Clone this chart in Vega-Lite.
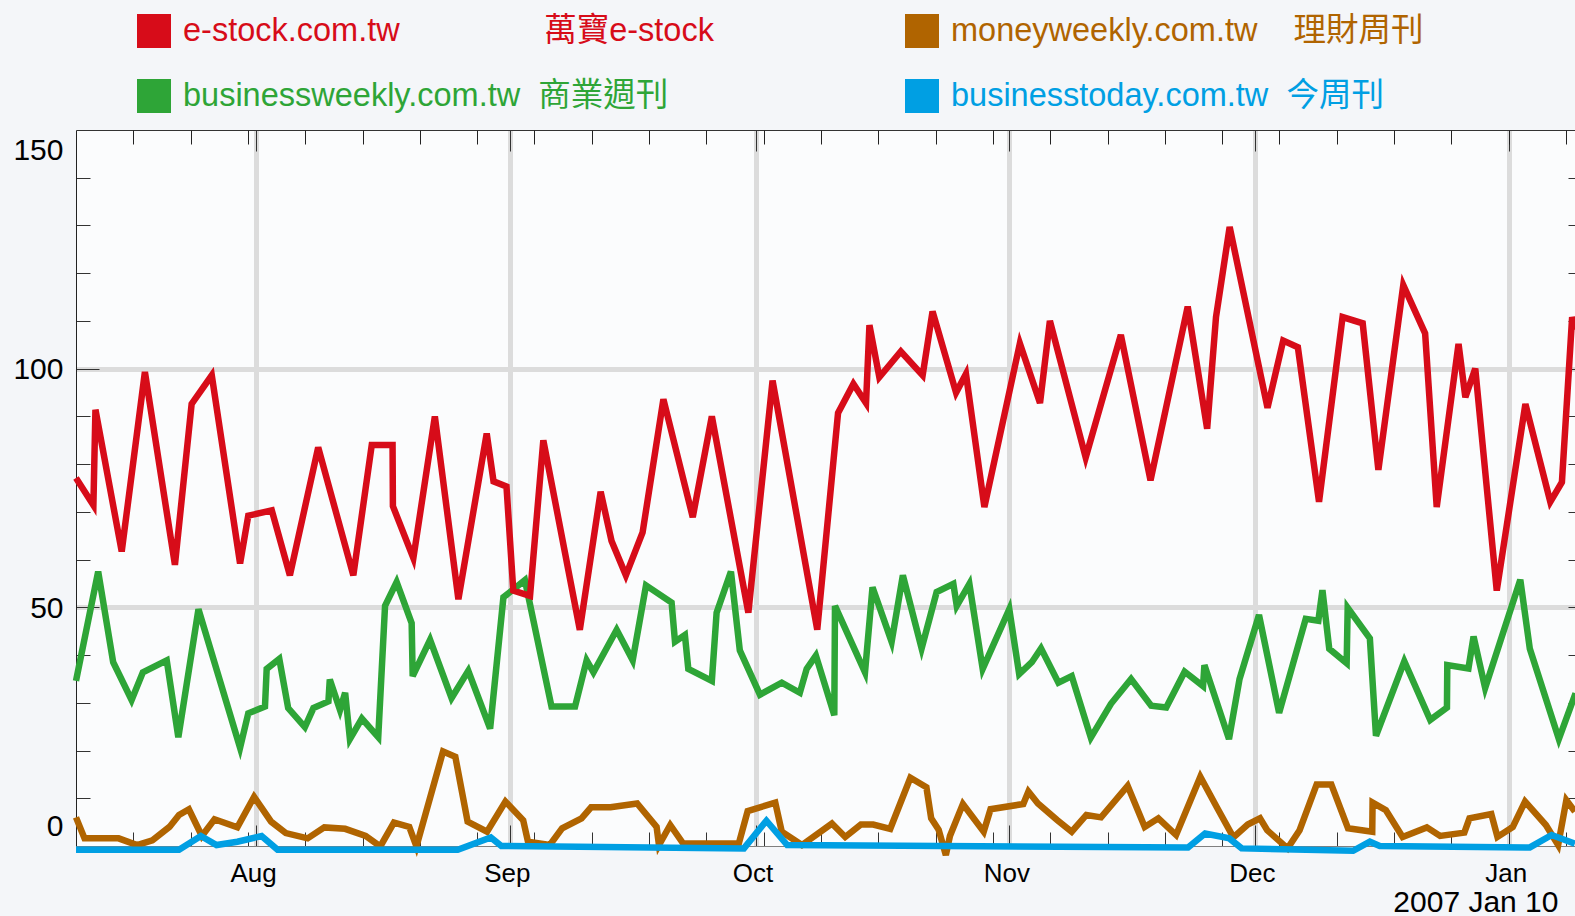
{
  "$schema": "https://vega.github.io/schema/vega-lite/v6.json",
  "width": 1499,
  "height": 716,
  "autosize": {"type": "none"},
  "padding": {"left": 76, "top": 130, "right": 0, "bottom": 70},
  "background": "#f4f6f9",
  "config": {"view": {"stroke": null, "fill": "#fbfcfd"}},
  "data": {"values": [
    {"site":"e-stock.com.tw","date":"2006-07-10T00:00","reach":77.1},
    {"site":"e-stock.com.tw","date":"2006-07-12T03:00","reach":71.4},
    {"site":"e-stock.com.tw","date":"2006-07-12T09:00","reach":91.4},
    {"site":"e-stock.com.tw","date":"2006-07-15T14:00","reach":61.7},
    {"site":"e-stock.com.tw","date":"2006-07-18T10:00","reach":99.3},
    {"site":"e-stock.com.tw","date":"2006-07-22T02:00","reach":58.9},
    {"site":"e-stock.com.tw","date":"2006-07-24T03:00","reach":92.6},
    {"site":"e-stock.com.tw","date":"2006-07-26T14:00","reach":98.6},
    {"site":"e-stock.com.tw","date":"2006-07-30T01:00","reach":59.2},
    {"site":"e-stock.com.tw","date":"2006-07-31T01:00","reach":69.2},
    {"site":"e-stock.com.tw","date":"2006-08-02T22:00","reach":70.3},
    {"site":"e-stock.com.tw","date":"2006-08-05T03:00","reach":56.7},
    {"site":"e-stock.com.tw","date":"2006-08-08T14:00","reach":83.5},
    {"site":"e-stock.com.tw","date":"2006-08-12T21:00","reach":56.7},
    {"site":"e-stock.com.tw","date":"2006-08-15T03:00","reach":84.0},
    {"site":"e-stock.com.tw","date":"2006-08-17T16:00","reach":84.0},
    {"site":"e-stock.com.tw","date":"2006-08-17T17:00","reach":71.2},
    {"site":"e-stock.com.tw","date":"2006-08-20T05:00","reach":60.3},
    {"site":"e-stock.com.tw","date":"2006-08-22T20:00","reach":90.0},
    {"site":"e-stock.com.tw","date":"2006-08-25T17:00","reach":51.7},
    {"site":"e-stock.com.tw","date":"2006-08-29T04:00","reach":86.4},
    {"site":"e-stock.com.tw","date":"2006-08-30T00:00","reach":76.4},
    {"site":"e-stock.com.tw","date":"2006-08-31T14:00","reach":75.3},
    {"site":"e-stock.com.tw","date":"2006-09-01T10:00","reach":53.5},
    {"site":"e-stock.com.tw","date":"2006-09-03T11:00","reach":52.4},
    {"site":"e-stock.com.tw","date":"2006-09-05T02:00","reach":85.0},
    {"site":"e-stock.com.tw","date":"2006-09-09T13:00","reach":45.3},
    {"site":"e-stock.com.tw","date":"2006-09-12T02:00","reach":74.2},
    {"site":"e-stock.com.tw","date":"2006-09-13T10:00","reach":63.9},
    {"site":"e-stock.com.tw","date":"2006-09-15T04:00","reach":56.7},
    {"site":"e-stock.com.tw","date":"2006-09-17T05:00","reach":65.7},
    {"site":"e-stock.com.tw","date":"2006-09-19T18:00","reach":93.6},
    {"site":"e-stock.com.tw","date":"2006-09-23T08:00","reach":68.9},
    {"site":"e-stock.com.tw","date":"2006-09-25T16:00","reach":90.0},
    {"site":"e-stock.com.tw","date":"2006-09-30T03:00","reach":48.9},
    {"site":"e-stock.com.tw","date":"2006-10-03T02:00","reach":97.5},
    {"site":"e-stock.com.tw","date":"2006-10-08T13:00","reach":45.3},
    {"site":"e-stock.com.tw","date":"2006-10-11T02:00","reach":90.7},
    {"site":"e-stock.com.tw","date":"2006-10-12T23:00","reach":96.8},
    {"site":"e-stock.com.tw","date":"2006-10-14T12:00","reach":92.8},
    {"site":"e-stock.com.tw","date":"2006-10-14T22:00","reach":109.1},
    {"site":"e-stock.com.tw","date":"2006-10-16T03:00","reach":98.2},
    {"site":"e-stock.com.tw","date":"2006-10-18T18:00","reach":103.6},
    {"site":"e-stock.com.tw","date":"2006-10-21T10:00","reach":98.6},
    {"site":"e-stock.com.tw","date":"2006-10-22T15:00","reach":112.0},
    {"site":"e-stock.com.tw","date":"2006-10-25T12:00","reach":95.0},
    {"site":"e-stock.com.tw","date":"2006-10-26T17:00","reach":98.9},
    {"site":"e-stock.com.tw","date":"2006-10-28T23:00","reach":71.0},
    {"site":"e-stock.com.tw","date":"2006-11-02T07:00","reach":105.3},
    {"site":"e-stock.com.tw","date":"2006-11-04T18:00","reach":92.8},
    {"site":"e-stock.com.tw","date":"2006-11-05T23:00","reach":110.0},
    {"site":"e-stock.com.tw","date":"2006-11-10T08:00","reach":81.4},
    {"site":"e-stock.com.tw","date":"2006-11-14T15:00","reach":107.1},
    {"site":"e-stock.com.tw","date":"2006-11-18T06:00","reach":76.6},
    {"site":"e-stock.com.tw","date":"2006-11-22T19:00","reach":113.0},
    {"site":"e-stock.com.tw","date":"2006-11-25T04:00","reach":87.4},
    {"site":"e-stock.com.tw","date":"2006-11-26T06:00","reach":110.8},
    {"site":"e-stock.com.tw","date":"2006-11-27T22:00","reach":129.7},
    {"site":"e-stock.com.tw","date":"2006-12-02T13:00","reach":91.8},
    {"site":"e-stock.com.tw","date":"2006-12-04T11:00","reach":105.9},
    {"site":"e-stock.com.tw","date":"2006-12-06T06:00","reach":104.5},
    {"site":"e-stock.com.tw","date":"2006-12-08T20:00","reach":72.1},
    {"site":"e-stock.com.tw","date":"2006-12-11T17:00","reach":110.8},
    {"site":"e-stock.com.tw","date":"2006-12-14T04:00","reach":109.5},
    {"site":"e-stock.com.tw","date":"2006-12-16T02:00","reach":78.8},
    {"site":"e-stock.com.tw","date":"2006-12-19T03:00","reach":117.5},
    {"site":"e-stock.com.tw","date":"2006-12-21T19:00","reach":107.4},
    {"site":"e-stock.com.tw","date":"2006-12-23T05:00","reach":71.0},
    {"site":"e-stock.com.tw","date":"2006-12-25T21:00","reach":105.2},
    {"site":"e-stock.com.tw","date":"2006-12-26T17:00","reach":94.0},
    {"site":"e-stock.com.tw","date":"2006-12-27T22:00","reach":100.0},
    {"site":"e-stock.com.tw","date":"2006-12-30T13:00","reach":53.5},
    {"site":"e-stock.com.tw","date":"2007-01-03T01:00","reach":92.6},
    {"site":"e-stock.com.tw","date":"2007-01-06T02:00","reach":72.1},
    {"site":"e-stock.com.tw","date":"2007-01-07T12:00","reach":76.2},
    {"site":"e-stock.com.tw","date":"2007-01-08T18:00","reach":110.8},
    {"site":"e-stock.com.tw","date":"2007-01-09T04:00","reach":108.2},

    {"site":"businessweekly.com.tw","date":"2006-07-10T00:00","reach":34.6},
    {"site":"businessweekly.com.tw","date":"2006-07-12T17:00","reach":57.5},
    {"site":"businessweekly.com.tw","date":"2006-07-14T13:00","reach":38.5},
    {"site":"businessweekly.com.tw","date":"2006-07-16T19:00","reach":30.6},
    {"site":"businessweekly.com.tw","date":"2006-07-18T04:00","reach":36.4},
    {"site":"businessweekly.com.tw","date":"2006-07-21T02:00","reach":38.9},
    {"site":"businessweekly.com.tw","date":"2006-07-22T12:00","reach":22.8},
    {"site":"businessweekly.com.tw","date":"2006-07-24T23:00","reach":49.6},
    {"site":"businessweekly.com.tw","date":"2006-07-30T01:00","reach":20.6},
    {"site":"businessweekly.com.tw","date":"2006-07-31T01:00","reach":27.8},
    {"site":"businessweekly.com.tw","date":"2006-08-02T02:00","reach":29.2},
    {"site":"businessweekly.com.tw","date":"2006-08-02T07:00","reach":37.1},
    {"site":"businessweekly.com.tw","date":"2006-08-03T20:00","reach":39.2},
    {"site":"businessweekly.com.tw","date":"2006-08-04T22:00","reach":28.9},
    {"site":"businessweekly.com.tw","date":"2006-08-06T23:00","reach":24.9},
    {"site":"businessweekly.com.tw","date":"2006-08-08T00:00","reach":28.9},
    {"site":"businessweekly.com.tw","date":"2006-08-09T20:00","reach":30.3},
    {"site":"businessweekly.com.tw","date":"2006-08-10T00:00","reach":34.9},
    {"site":"businessweekly.com.tw","date":"2006-08-11T06:00","reach":28.5},
    {"site":"businessweekly.com.tw","date":"2006-08-11T21:00","reach":32.1},
    {"site":"businessweekly.com.tw","date":"2006-08-12T11:00","reach":22.4},
    {"site":"businessweekly.com.tw","date":"2006-08-13T22:00","reach":26.7},
    {"site":"businessweekly.com.tw","date":"2006-08-15T22:00","reach":22.8},
    {"site":"businessweekly.com.tw","date":"2006-08-16T18:00","reach":50.3},
    {"site":"businessweekly.com.tw","date":"2006-08-18T04:00","reach":55.3},
    {"site":"businessweekly.com.tw","date":"2006-08-20T00:00","reach":46.7},
    {"site":"businessweekly.com.tw","date":"2006-08-20T03:00","reach":35.6},
    {"site":"businessweekly.com.tw","date":"2006-08-22T06:00","reach":43.2},
    {"site":"businessweekly.com.tw","date":"2006-08-24T21:00","reach":31.0},
    {"site":"businessweekly.com.tw","date":"2006-08-26T22:00","reach":36.7},
    {"site":"businessweekly.com.tw","date":"2006-08-29T14:00","reach":24.6},
    {"site":"businessweekly.com.tw","date":"2006-08-31T05:00","reach":52.1},
    {"site":"businessweekly.com.tw","date":"2006-09-02T20:00","reach":55.7},
    {"site":"businessweekly.com.tw","date":"2006-09-06T02:00","reach":29.2},
    {"site":"businessweekly.com.tw","date":"2006-09-08T23:00","reach":29.2},
    {"site":"businessweekly.com.tw","date":"2006-09-10T09:00","reach":38.9},
    {"site":"businessweekly.com.tw","date":"2006-09-11T05:00","reach":36.4},
    {"site":"businessweekly.com.tw","date":"2006-09-14T01:00","reach":45.3},
    {"site":"businessweekly.com.tw","date":"2006-09-16T00:00","reach":38.9},
    {"site":"businessweekly.com.tw","date":"2006-09-17T15:00","reach":54.6},
    {"site":"businessweekly.com.tw","date":"2006-09-20T18:00","reach":51.0},
    {"site":"businessweekly.com.tw","date":"2006-09-21T04:00","reach":42.8},
    {"site":"businessweekly.com.tw","date":"2006-09-22T09:00","reach":44.2},
    {"site":"businessweekly.com.tw","date":"2006-09-22T19:00","reach":37.1},
    {"site":"businessweekly.com.tw","date":"2006-09-25T16:00","reach":34.6},
    {"site":"businessweekly.com.tw","date":"2006-09-26T06:00","reach":48.9},
    {"site":"businessweekly.com.tw","date":"2006-09-28T00:00","reach":57.5},
    {"site":"businessweekly.com.tw","date":"2006-09-29T02:00","reach":41.0},
    {"site":"businessweekly.com.tw","date":"2006-10-01T13:00","reach":31.7},
    {"site":"businessweekly.com.tw","date":"2006-10-04T05:00","reach":34.2},
    {"site":"businessweekly.com.tw","date":"2006-10-06T10:00","reach":32.1},
    {"site":"businessweekly.com.tw","date":"2006-10-07T06:00","reach":37.1},
    {"site":"businessweekly.com.tw","date":"2006-10-08T09:00","reach":39.9},
    {"site":"businessweekly.com.tw","date":"2006-10-10T15:00","reach":27.4},
    {"site":"businessweekly.com.tw","date":"2006-10-10T17:00","reach":50.3},
    {"site":"businessweekly.com.tw","date":"2006-10-14T09:00","reach":36.4},
    {"site":"businessweekly.com.tw","date":"2006-10-15T07:00","reach":54.2},
    {"site":"businessweekly.com.tw","date":"2006-10-17T15:00","reach":42.8},
    {"site":"businessweekly.com.tw","date":"2006-10-19T00:00","reach":56.7},
    {"site":"businessweekly.com.tw","date":"2006-10-21T07:00","reach":41.4},
    {"site":"businessweekly.com.tw","date":"2006-10-23T03:00","reach":53.2},
    {"site":"businessweekly.com.tw","date":"2006-10-25T04:00","reach":54.9},
    {"site":"businessweekly.com.tw","date":"2006-10-25T14:00","reach":50.3},
    {"site":"businessweekly.com.tw","date":"2006-10-27T03:00","reach":54.9},
    {"site":"businessweekly.com.tw","date":"2006-10-28T18:00","reach":37.1},
    {"site":"businessweekly.com.tw","date":"2006-11-01T00:00","reach":49.6},
    {"site":"businessweekly.com.tw","date":"2006-11-02T05:00","reach":36.0},
    {"site":"businessweekly.com.tw","date":"2006-11-03T18:00","reach":38.5},
    {"site":"businessweekly.com.tw","date":"2006-11-04T21:00","reach":41.4},
    {"site":"businessweekly.com.tw","date":"2006-11-07T00:00","reach":34.2},
    {"site":"businessweekly.com.tw","date":"2006-11-08T15:00","reach":35.6},
    {"site":"businessweekly.com.tw","date":"2006-11-10T23:00","reach":22.7},
    {"site":"businessweekly.com.tw","date":"2006-11-13T10:00","reach":29.8},
    {"site":"businessweekly.com.tw","date":"2006-11-15T21:00","reach":35.0},
    {"site":"businessweekly.com.tw","date":"2006-11-18T08:00","reach":29.4},
    {"site":"businessweekly.com.tw","date":"2006-11-20T04:00","reach":29.0},
    {"site":"businessweekly.com.tw","date":"2006-11-22T10:00","reach":36.5},
    {"site":"businessweekly.com.tw","date":"2006-11-24T16:00","reach":33.5},
    {"site":"businessweekly.com.tw","date":"2006-11-24T20:00","reach":37.9},
    {"site":"businessweekly.com.tw","date":"2006-11-27T20:00","reach":22.4},
    {"site":"businessweekly.com.tw","date":"2006-11-29T03:00","reach":35.0},
    {"site":"businessweekly.com.tw","date":"2006-12-01T12:00","reach":48.4},
    {"site":"businessweekly.com.tw","date":"2006-12-03T23:00","reach":27.9},
    {"site":"businessweekly.com.tw","date":"2006-12-07T05:00","reach":47.6},
    {"site":"businessweekly.com.tw","date":"2006-12-08T18:00","reach":47.2},
    {"site":"businessweekly.com.tw","date":"2006-12-09T06:00","reach":53.6},
    {"site":"businessweekly.com.tw","date":"2006-12-10T02:00","reach":41.3},
    {"site":"businessweekly.com.tw","date":"2006-12-12T05:00","reach":38.3},
    {"site":"businessweekly.com.tw","date":"2006-12-12T08:00","reach":49.9},
    {"site":"businessweekly.com.tw","date":"2006-12-15T01:00","reach":43.5},
    {"site":"businessweekly.com.tw","date":"2006-12-15T19:00","reach":23.1},
    {"site":"businessweekly.com.tw","date":"2006-12-19T06:00","reach":38.7},
    {"site":"businessweekly.com.tw","date":"2006-12-22T10:00","reach":26.4},
    {"site":"businessweekly.com.tw","date":"2006-12-24T11:00","reach":29.0},
    {"site":"businessweekly.com.tw","date":"2006-12-24T12:00","reach":37.9},
    {"site":"businessweekly.com.tw","date":"2006-12-27T02:00","reach":37.2},
    {"site":"businessweekly.com.tw","date":"2006-12-27T17:00","reach":43.9},
    {"site":"businessweekly.com.tw","date":"2006-12-29T03:00","reach":33.1},
    {"site":"businessweekly.com.tw","date":"2007-01-02T10:00","reach":55.8},
    {"site":"businessweekly.com.tw","date":"2007-01-03T14:00","reach":41.3},
    {"site":"businessweekly.com.tw","date":"2007-01-07T03:00","reach":22.4},
    {"site":"businessweekly.com.tw","date":"2007-01-09T04:00","reach":32.0},

    {"site":"moneyweekly.com.tw","date":"2006-07-10T00:00","reach":6.0},
    {"site":"moneyweekly.com.tw","date":"2006-07-11T01:00","reach":1.6},
    {"site":"moneyweekly.com.tw","date":"2006-07-15T05:00","reach":1.6},
    {"site":"moneyweekly.com.tw","date":"2006-07-17T11:00","reach":0.2},
    {"site":"moneyweekly.com.tw","date":"2006-07-19T08:00","reach":1.2},
    {"site":"moneyweekly.com.tw","date":"2006-07-21T10:00","reach":4.0},
    {"site":"moneyweekly.com.tw","date":"2006-07-22T14:00","reach":6.5},
    {"site":"moneyweekly.com.tw","date":"2006-07-23T19:00","reach":7.7},
    {"site":"moneyweekly.com.tw","date":"2006-07-25T09:00","reach":2.1},
    {"site":"moneyweekly.com.tw","date":"2006-07-26T22:00","reach":5.6},
    {"site":"moneyweekly.com.tw","date":"2006-07-29T17:00","reach":3.9},
    {"site":"moneyweekly.com.tw","date":"2006-07-31T18:00","reach":10.3},
    {"site":"moneyweekly.com.tw","date":"2006-08-02T20:00","reach":5.1},
    {"site":"moneyweekly.com.tw","date":"2006-08-04T15:00","reach":2.7},
    {"site":"moneyweekly.com.tw","date":"2006-08-07T07:00","reach":1.6},
    {"site":"moneyweekly.com.tw","date":"2006-08-09T08:00","reach":3.9},
    {"site":"moneyweekly.com.tw","date":"2006-08-11T21:00","reach":3.6},
    {"site":"moneyweekly.com.tw","date":"2006-08-14T09:00","reach":2.1},
    {"site":"moneyweekly.com.tw","date":"2006-08-16T04:00","reach":-0.1},
    {"site":"moneyweekly.com.tw","date":"2006-08-17T20:00","reach":4.9},
    {"site":"moneyweekly.com.tw","date":"2006-08-19T17:00","reach":4.0},
    {"site":"moneyweekly.com.tw","date":"2006-08-20T14:00","reach":-0.1},
    {"site":"moneyweekly.com.tw","date":"2006-08-23T20:00","reach":19.8},
    {"site":"moneyweekly.com.tw","date":"2006-08-25T08:00","reach":18.7},
    {"site":"moneyweekly.com.tw","date":"2006-08-26T20:00","reach":5.1},
    {"site":"moneyweekly.com.tw","date":"2006-08-29T05:00","reach":3.0},
    {"site":"moneyweekly.com.tw","date":"2006-08-31T11:00","reach":9.3},
    {"site":"moneyweekly.com.tw","date":"2006-09-02T15:00","reach":5.4},
    {"site":"moneyweekly.com.tw","date":"2006-09-03T05:00","reach":0.9},
    {"site":"moneyweekly.com.tw","date":"2006-09-05T21:00","reach":0.2},
    {"site":"moneyweekly.com.tw","date":"2006-09-07T09:00","reach":3.7},
    {"site":"moneyweekly.com.tw","date":"2006-09-09T18:00","reach":5.8},
    {"site":"moneyweekly.com.tw","date":"2006-09-10T22:00","reach":8.1},
    {"site":"moneyweekly.com.tw","date":"2006-09-13T07:00","reach":8.1},
    {"site":"moneyweekly.com.tw","date":"2006-09-16T13:00","reach":8.9},
    {"site":"moneyweekly.com.tw","date":"2006-09-18T22:00","reach":4.0},
    {"site":"moneyweekly.com.tw","date":"2006-09-19T05:00","reach":0.2},
    {"site":"moneyweekly.com.tw","date":"2006-09-20T14:00","reach":4.4},
    {"site":"moneyweekly.com.tw","date":"2006-09-22T04:00","reach":0.5},
    {"site":"moneyweekly.com.tw","date":"2006-09-28T23:00","reach":0.5},
    {"site":"moneyweekly.com.tw","date":"2006-09-30T01:00","reach":7.3},
    {"site":"moneyweekly.com.tw","date":"2006-10-03T10:00","reach":9.1},
    {"site":"moneyweekly.com.tw","date":"2006-10-04T05:00","reach":3.0},
    {"site":"moneyweekly.com.tw","date":"2006-10-06T16:00","reach":0.2},
    {"site":"moneyweekly.com.tw","date":"2006-10-10T08:00","reach":4.7},
    {"site":"moneyweekly.com.tw","date":"2006-10-11T23:00","reach":1.9},
    {"site":"moneyweekly.com.tw","date":"2006-10-13T21:00","reach":4.5},
    {"site":"moneyweekly.com.tw","date":"2006-10-15T09:00","reach":4.5},
    {"site":"moneyweekly.com.tw","date":"2006-10-17T11:00","reach":3.6},
    {"site":"moneyweekly.com.tw","date":"2006-10-19T22:00","reach":14.3},
    {"site":"moneyweekly.com.tw","date":"2006-10-21T21:00","reach":12.3},
    {"site":"moneyweekly.com.tw","date":"2006-10-22T11:00","reach":5.8},
    {"site":"moneyweekly.com.tw","date":"2006-10-23T09:00","reach":3.4},
    {"site":"moneyweekly.com.tw","date":"2006-10-24T06:00","reach":-1.9},
    {"site":"moneyweekly.com.tw","date":"2006-10-24T18:00","reach":2.1},
    {"site":"moneyweekly.com.tw","date":"2006-10-26T08:00","reach":8.8},
    {"site":"moneyweekly.com.tw","date":"2006-10-28T21:00","reach":3.0},
    {"site":"moneyweekly.com.tw","date":"2006-10-29T17:00","reach":7.7},
    {"site":"moneyweekly.com.tw","date":"2006-11-02T17:00","reach":8.8},
    {"site":"moneyweekly.com.tw","date":"2006-11-03T08:00","reach":11.4},
    {"site":"moneyweekly.com.tw","date":"2006-11-04T12:00","reach":8.9},
    {"site":"moneyweekly.com.tw","date":"2006-11-06T21:00","reach":5.4},
    {"site":"moneyweekly.com.tw","date":"2006-11-08T15:00","reach":3.0},
    {"site":"moneyweekly.com.tw","date":"2006-11-10T10:00","reach":6.5},
    {"site":"moneyweekly.com.tw","date":"2006-11-12T05:00","reach":6.0},
    {"site":"moneyweekly.com.tw","date":"2006-11-15T11:00","reach":12.6},
    {"site":"moneyweekly.com.tw","date":"2006-11-17T13:00","reach":4.0},
    {"site":"moneyweekly.com.tw","date":"2006-11-19T05:00","reach":5.8},
    {"site":"moneyweekly.com.tw","date":"2006-11-21T09:00","reach":2.3},
    {"site":"moneyweekly.com.tw","date":"2006-11-24T08:00","reach":14.5},
    {"site":"moneyweekly.com.tw","date":"2006-11-26T10:00","reach":7.9},
    {"site":"moneyweekly.com.tw","date":"2006-11-28T09:00","reach":1.8},
    {"site":"moneyweekly.com.tw","date":"2006-11-30T03:00","reach":4.5},
    {"site":"moneyweekly.com.tw","date":"2006-12-01T15:00","reach":5.8},
    {"site":"moneyweekly.com.tw","date":"2006-12-02T12:00","reach":3.3},
    {"site":"moneyweekly.com.tw","date":"2006-12-05T00:00","reach":-0.5},
    {"site":"moneyweekly.com.tw","date":"2006-12-06T11:00","reach":3.3},
    {"site":"moneyweekly.com.tw","date":"2006-12-08T13:00","reach":12.9},
    {"site":"moneyweekly.com.tw","date":"2006-12-10T08:00","reach":12.9},
    {"site":"moneyweekly.com.tw","date":"2006-12-12T09:00","reach":3.7},
    {"site":"moneyweekly.com.tw","date":"2006-12-15T08:00","reach":3.0},
    {"site":"moneyweekly.com.tw","date":"2006-12-15T09:00","reach":9.1},
    {"site":"moneyweekly.com.tw","date":"2006-12-17T00:00","reach":7.5},
    {"site":"moneyweekly.com.tw","date":"2006-12-19T01:00","reach":1.9},
    {"site":"moneyweekly.com.tw","date":"2006-12-22T00:00","reach":3.9},
    {"site":"moneyweekly.com.tw","date":"2006-12-23T15:00","reach":2.1},
    {"site":"moneyweekly.com.tw","date":"2006-12-26T14:00","reach":2.8},
    {"site":"moneyweekly.com.tw","date":"2006-12-27T05:00","reach":5.8},
    {"site":"moneyweekly.com.tw","date":"2006-12-29T21:00","reach":6.7},
    {"site":"moneyweekly.com.tw","date":"2006-12-30T15:00","reach":1.9},
    {"site":"moneyweekly.com.tw","date":"2007-01-01T12:00","reach":4.0},
    {"site":"moneyweekly.com.tw","date":"2007-01-03T00:00","reach":9.3},
    {"site":"moneyweekly.com.tw","date":"2007-01-05T13:00","reach":4.4},
    {"site":"moneyweekly.com.tw","date":"2007-01-07T01:00","reach":0.2},
    {"site":"moneyweekly.com.tw","date":"2007-01-08T01:00","reach":9.6},
    {"site":"moneyweekly.com.tw","date":"2007-01-09T02:00","reach":7.2},

    {"site":"businesstoday.com.tw","date":"2006-07-10T00:00","reach":-0.8},
    {"site":"businesstoday.com.tw","date":"2006-07-22T14:00","reach":-0.8},
    {"site":"businesstoday.com.tw","date":"2006-07-25T06:00","reach":2.1},
    {"site":"businesstoday.com.tw","date":"2006-07-27T04:00","reach":0.2},
    {"site":"businesstoday.com.tw","date":"2006-07-29T17:00","reach":0.9},
    {"site":"businesstoday.com.tw","date":"2006-08-01T16:00","reach":2.1},
    {"site":"businesstoday.com.tw","date":"2006-08-03T15:00","reach":-0.8},
    {"site":"businesstoday.com.tw","date":"2006-08-25T15:00","reach":-0.8},
    {"site":"businesstoday.com.tw","date":"2006-08-29T16:00","reach":1.8},
    {"site":"businesstoday.com.tw","date":"2006-08-30T23:00","reach":0.0},
    {"site":"businesstoday.com.tw","date":"2006-09-29T14:00","reach":-0.5},
    {"site":"businesstoday.com.tw","date":"2006-10-02T08:00","reach":5.3},
    {"site":"businesstoday.com.tw","date":"2006-10-04T21:00","reach":0.2},
    {"site":"businesstoday.com.tw","date":"2006-11-22T20:00","reach":-0.3},
    {"site":"businesstoday.com.tw","date":"2006-11-24T22:00","reach":2.6},
    {"site":"businesstoday.com.tw","date":"2006-11-27T21:00","reach":1.6},
    {"site":"businesstoday.com.tw","date":"2006-11-29T09:00","reach":-0.5},
    {"site":"businesstoday.com.tw","date":"2006-12-13T00:00","reach":-1.0},
    {"site":"businesstoday.com.tw","date":"2006-12-15T01:00","reach":0.9},
    {"site":"businesstoday.com.tw","date":"2006-12-16T06:00","reach":0.0},
    {"site":"businesstoday.com.tw","date":"2007-01-03T14:00","reach":-0.3},
    {"site":"businesstoday.com.tw","date":"2007-01-06T06:00","reach":2.3},
    {"site":"businesstoday.com.tw","date":"2007-01-09T02:00","reach":0.5}
  ]},
  "encoding": {
    "color": {
      "field": "site",
      "type": "nominal",
      "scale": {
        "domain": ["e-stock.com.tw", "businessweekly.com.tw", "moneyweekly.com.tw", "businesstoday.com.tw"],
        "range": ["#d70c19", "#2ea537", "#b06400", "#009fe3"]
      },
      "legend": {
        "orient": "none",
        "legendX": 61,
        "legendY": -116,
        "columns": 2,
        "title": null,
        "padding": 0,
        "symbolType": "square",
        "symbolSize": 1156,
        "symbolStrokeWidth": 0,
        "labelFont": "Liberation Sans, Noto Sans CJK TC, sans-serif",
        "labelFontSize": 32.5,
        "labelOffset": 12,
        "labelLimit": 2000,
        "rowPadding": 31,
        "columnPadding": 191,
        "labelExpr": "datum.label == 'e-stock.com.tw' ? 'e-stock.com.tw\u00a0\u00a0\u00a0\u00a0\u00a0\u00a0\u00a0\u00a0\u00a0\u00a0\u00a0\u00a0\u00a0\u00a0\u00a0\u00a0萬寶e-stock' : datum.label == 'businessweekly.com.tw' ? 'businessweekly.com.tw\u00a0\u00a0商業週刊' : datum.label == 'moneyweekly.com.tw' ? 'moneyweekly.com.tw\u00a0\u00a0\u00a0\u00a0理財周刊' : 'businesstoday.com.tw\u00a0\u00a0今周刊'",
        "encode": {
          "labels": {"update": {"fill": {"scale": "color", "field": "value"}}},
          "symbols": {"update": {"fill": {"scale": "color", "field": "value"}, "stroke": {"value": "transparent"}, "strokeWidth": {"value": 0}, "opacity": {"value": 1}}}
        }
      }
    }
  },
  "layer": [
    {
      "transform": [{"filter": {"field": "site", "equal": "moneyweekly.com.tw"}}],
      "mark": {"type": "line", "strokeWidth": 6.5, "clip": false},
      "encoding": {
        "x": {"field": "date", "type": "temporal",
          "scale": {"domain": [{"year": 2006, "month": 7, "date": 10}, {"year": 2007, "month": 1, "date": 9, "hours": 2, "minutes": 24}], "nice": false},
          "axis": {"orient": "bottom", "title": null, "labels": false, "grid": false, "domain": false, "tickSize": -14, "tickColor": "#333",
            "values": [{"year":2006,"month":7,"date":17},{"year":2006,"month":7,"date":24},{"year":2006,"month":7,"date":31},{"year":2006,"month":8,"date":7},{"year":2006,"month":8,"date":14},{"year":2006,"month":8,"date":21},{"year":2006,"month":8,"date":28},{"year":2006,"month":9,"date":4},{"year":2006,"month":9,"date":11},{"year":2006,"month":9,"date":18},{"year":2006,"month":9,"date":25},{"year":2006,"month":10,"date":2},{"year":2006,"month":10,"date":9},{"year":2006,"month":10,"date":16},{"year":2006,"month":10,"date":23},{"year":2006,"month":10,"date":30},{"year":2006,"month":11,"date":6},{"year":2006,"month":11,"date":13},{"year":2006,"month":11,"date":20},{"year":2006,"month":11,"date":27},{"year":2006,"month":12,"date":4},{"year":2006,"month":12,"date":11},{"year":2006,"month":12,"date":18},{"year":2006,"month":12,"date":25},{"year":2007,"month":1,"date":1},{"year":2007,"month":1,"date":8}]}},
        "y": {"field": "reach", "type": "quantitative", "scale": {"domain": [0, 150], "nice": false, "zero": false},
          "axis": {"orient": "left", "title": null, "labels": false, "grid": false, "domain": false, "tickSize": -14, "tickColor": "#333",
            "values": [10, 20, 30, 40, 60, 70, 80, 90, 110, 120, 130, 140]}}
      }
    },
    {
      "transform": [{"filter": {"field": "site", "equal": "businesstoday.com.tw"}}],
      "mark": {"type": "line", "strokeWidth": 6.5, "clip": false},
      "encoding": {
        "x": {"field": "date", "type": "temporal",
          "scale": {"domain": [{"year": 2006, "month": 7, "date": 10}, {"year": 2007, "month": 1, "date": 9, "hours": 2, "minutes": 24}], "nice": false},
          "axis": {"orient": "bottom", "format": "%b", "labelFont": "Liberation Sans", "labelFontSize": 26, "labelColor": "#000",
            "labelPadding": 35, "labelOffset": -3, "labelFlush": false, "labelOverlap": false,
            "tickSize": -21, "tickColor": "#333", "grid": true, "gridColor": "#dcdcdc", "gridWidth": 5,
            "domain": true, "domainColor": "#808080", "domainWidth": 1,
            "title": "2007 Jan 10", "titleFont": "Liberation Sans", "titleFontSize": 30, "titleFontWeight": "normal", "titleColor": "#000",
            "titleAlign": "right", "titleBaseline": "alphabetic", "titleX": 1482, "titleY": 65,
            "values": [{"year":2006,"month":8,"date":1},{"year":2006,"month":9,"date":1},{"year":2006,"month":10,"date":1},{"year":2006,"month":11,"date":1},{"year":2006,"month":12,"date":1},{"year":2007,"month":1,"date":1}]}},
        "y": {"field": "reach", "type": "quantitative", "scale": {"domain": [0, 150], "nice": false, "zero": false},
          "axis": {"orient": "left", "title": null, "values": [0, 50, 100, 150],
            "grid": true, "gridColor": "#dcdcdc", "gridWidth": 5,
            "gridOpacity": {"condition": {"test": "datum.value == 0 || datum.value == 150", "value": 0}, "value": 1},
            "tickSize": -23, "tickColor": "#333",
            "tickOpacity": {"condition": {"test": "datum.value == 0 || datum.value == 150", "value": 0}, "value": 1},
            "labelFont": "Liberation Sans", "labelFontSize": 30, "labelColor": "#000", "labelPadding": 36,
            "labelOffset": {"condition": [{"test": "datum.value == 0", "value": -20}, {"test": "datum.value == 150", "value": 20}], "value": 1},
            "labelFlush": false, "labelOverlap": false,
            "domain": true, "domainColor": "#222", "domainWidth": 1}}
      }
    },
    {
      "transform": [{"filter": {"field": "site", "equal": "businessweekly.com.tw"}}],
      "mark": {"type": "line", "strokeWidth": 6.5, "clip": false},
      "encoding": {
        "x": {"field": "date", "type": "temporal",
          "scale": {"domain": [{"year": 2006, "month": 7, "date": 10}, {"year": 2007, "month": 1, "date": 9, "hours": 2, "minutes": 24}], "nice": false},
          "axis": {"orient": "top", "title": null, "labels": false, "grid": false, "domain": true, "domainColor": "#333", "tickSize": -21, "tickColor": "#333",
            "values": [{"year":2006,"month":8,"date":1},{"year":2006,"month":9,"date":1},{"year":2006,"month":10,"date":1},{"year":2006,"month":11,"date":1},{"year":2006,"month":12,"date":1},{"year":2007,"month":1,"date":1}]}},
        "y": {"field": "reach", "type": "quantitative", "scale": {"domain": [0, 150], "nice": false, "zero": false},
          "axis": {"orient": "right", "title": null, "labels": false, "grid": false, "domain": false, "tickSize": -7, "tickColor": "#333",
            "values": [10, 20, 30, 40, 50, 60, 70, 80, 90, 100, 110, 120, 130, 140]}}
      }
    },
    {
      "transform": [{"filter": {"field": "site", "equal": "e-stock.com.tw"}}],
      "mark": {"type": "line", "strokeWidth": 6.5, "clip": false},
      "encoding": {
        "x": {"field": "date", "type": "temporal",
          "scale": {"domain": [{"year": 2006, "month": 7, "date": 10}, {"year": 2007, "month": 1, "date": 9, "hours": 2, "minutes": 24}], "nice": false},
          "axis": {"orient": "top", "title": null, "labels": false, "grid": false, "domain": false, "tickSize": -14, "tickColor": "#222",
            "values": [{"year":2006,"month":7,"date":17},{"year":2006,"month":7,"date":24},{"year":2006,"month":7,"date":31},{"year":2006,"month":8,"date":7},{"year":2006,"month":8,"date":14},{"year":2006,"month":8,"date":21},{"year":2006,"month":8,"date":28},{"year":2006,"month":9,"date":4},{"year":2006,"month":9,"date":11},{"year":2006,"month":9,"date":18},{"year":2006,"month":9,"date":25},{"year":2006,"month":10,"date":2},{"year":2006,"month":10,"date":9},{"year":2006,"month":10,"date":16},{"year":2006,"month":10,"date":23},{"year":2006,"month":10,"date":30},{"year":2006,"month":11,"date":6},{"year":2006,"month":11,"date":13},{"year":2006,"month":11,"date":20},{"year":2006,"month":11,"date":27},{"year":2006,"month":12,"date":4},{"year":2006,"month":12,"date":11},{"year":2006,"month":12,"date":18},{"year":2006,"month":12,"date":25},{"year":2007,"month":1,"date":1},{"year":2007,"month":1,"date":8}]}},
        "y": {"field": "reach", "type": "quantitative", "scale": {"domain": [0, 150], "nice": false, "zero": false}, "axis": null}
      }
    }
  ],
  "resolve": {"axis": {"x": "independent", "y": "independent"}}
}
